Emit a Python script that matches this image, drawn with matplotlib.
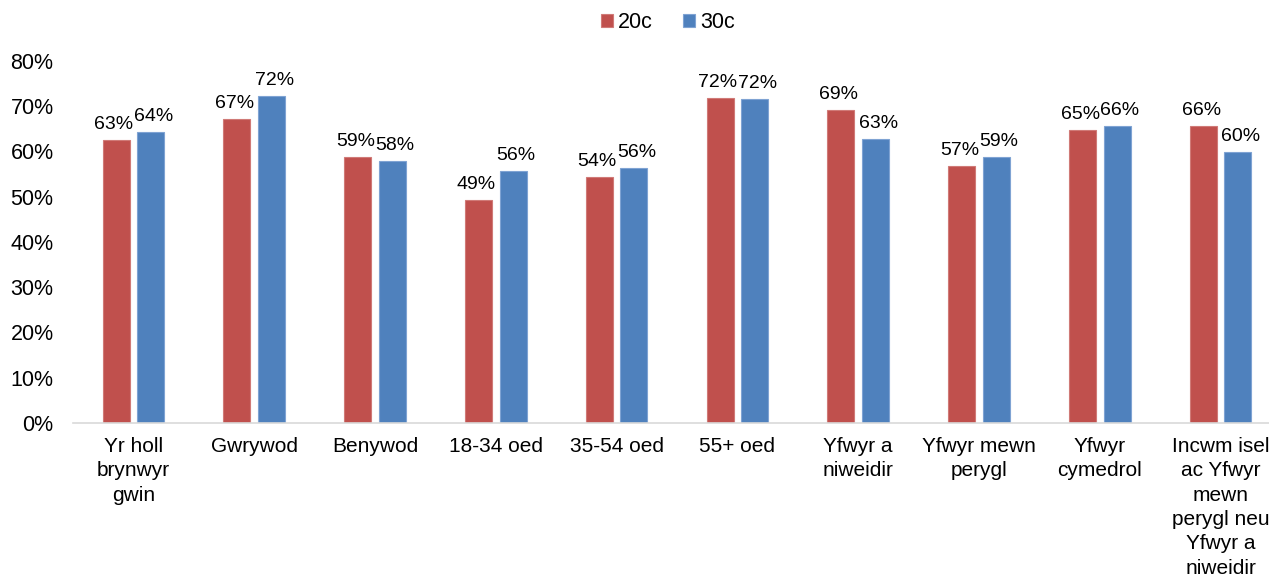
import matplotlib.pyplot as plt
import numpy as np

plt.rcParams['font.family'] = ['Liberation Sans', 'DejaVu Sans']

categories = ["Yr holl\nbrynwyr\ngwin", "Gwrywod", "Benywod", "18-34 oed", "35-54 oed",
              "55+ oed", "Yfwyr a\nniweidir", "Yfwyr mewn\nperygl", "Yfwyr\ncymedrol",
              "Incwm isel\nac Yfwyr\nmewn\nperygl neu\nYfwyr a\nniweidir"]
vals_20c = [0.626, 0.672, 0.588, 0.493, 0.544, 0.718, 0.692, 0.568, 0.648, 0.656]
vals_30c = [0.643, 0.723, 0.579, 0.557, 0.564, 0.716, 0.628, 0.588, 0.657, 0.599]
series = ["20c", "30c"]
colors = ["#C0504D", "#4F81BD"]
edges = ["#D07A77", "#7FA3D3"]

fig = plt.figure(figsize=(12.69, 5.83), dpi=100)
ax = fig.add_axes([73 / 1269, 160 / 583, 1208 / 1269, 362 / 583])

x = np.arange(len(categories))
w = 0.224
off = 0.143
for i, (vals, name) in enumerate(zip([vals_20c, vals_30c], series)):
    pos = x + (off if i else -off)
    bars = ax.bar(pos, vals, width=w, color=colors[i], edgecolor=edges[i],
                  linewidth=0.8, label=name)
    for b, v in zip(bars, vals):
        # nudge the pair of labels apart a little, like excel does
        ax.annotate(f"{v * 100:.0f}%", (b.get_x() + b.get_width() / 2, v),
                    xytext=(2 if i else -1.5, 5), textcoords="offset points",
                    ha="center", va="bottom", fontsize=14, color="#000000")

ax.set_xlim(-0.5, len(categories) - 0.5)
ax.set_ylim(0, 0.8)
ax.set_yticks(np.arange(0, 0.81, 0.1))
ax.set_yticklabels([f"{t * 100:.0f}%" for t in np.arange(0, 0.81, 0.1)], fontsize=15.5)
ax.set_xticks(x)
ax.set_xticklabels(categories, linespacing=1.36, fontsize=15)
ax.tick_params(axis="both", length=0, colors="#000000")
ax.tick_params(axis="x", pad=10)
ax.tick_params(axis="y", pad=14)
for s in ["top", "right", "left"]:
    ax.spines[s].set_visible(False)
ax.spines["bottom"].set_color("#D9D9D9")
ax.spines["bottom"].set_linewidth(1.2)

fig.legend(loc="upper center", bbox_to_anchor=(668 / 1269, 1.012), ncol=2,
           frameon=False, fontsize=15.5, handlelength=0.55, handleheight=0.55,
           handletextpad=0.25, columnspacing=1.4)

fig.savefig("out.png", dpi=100)
